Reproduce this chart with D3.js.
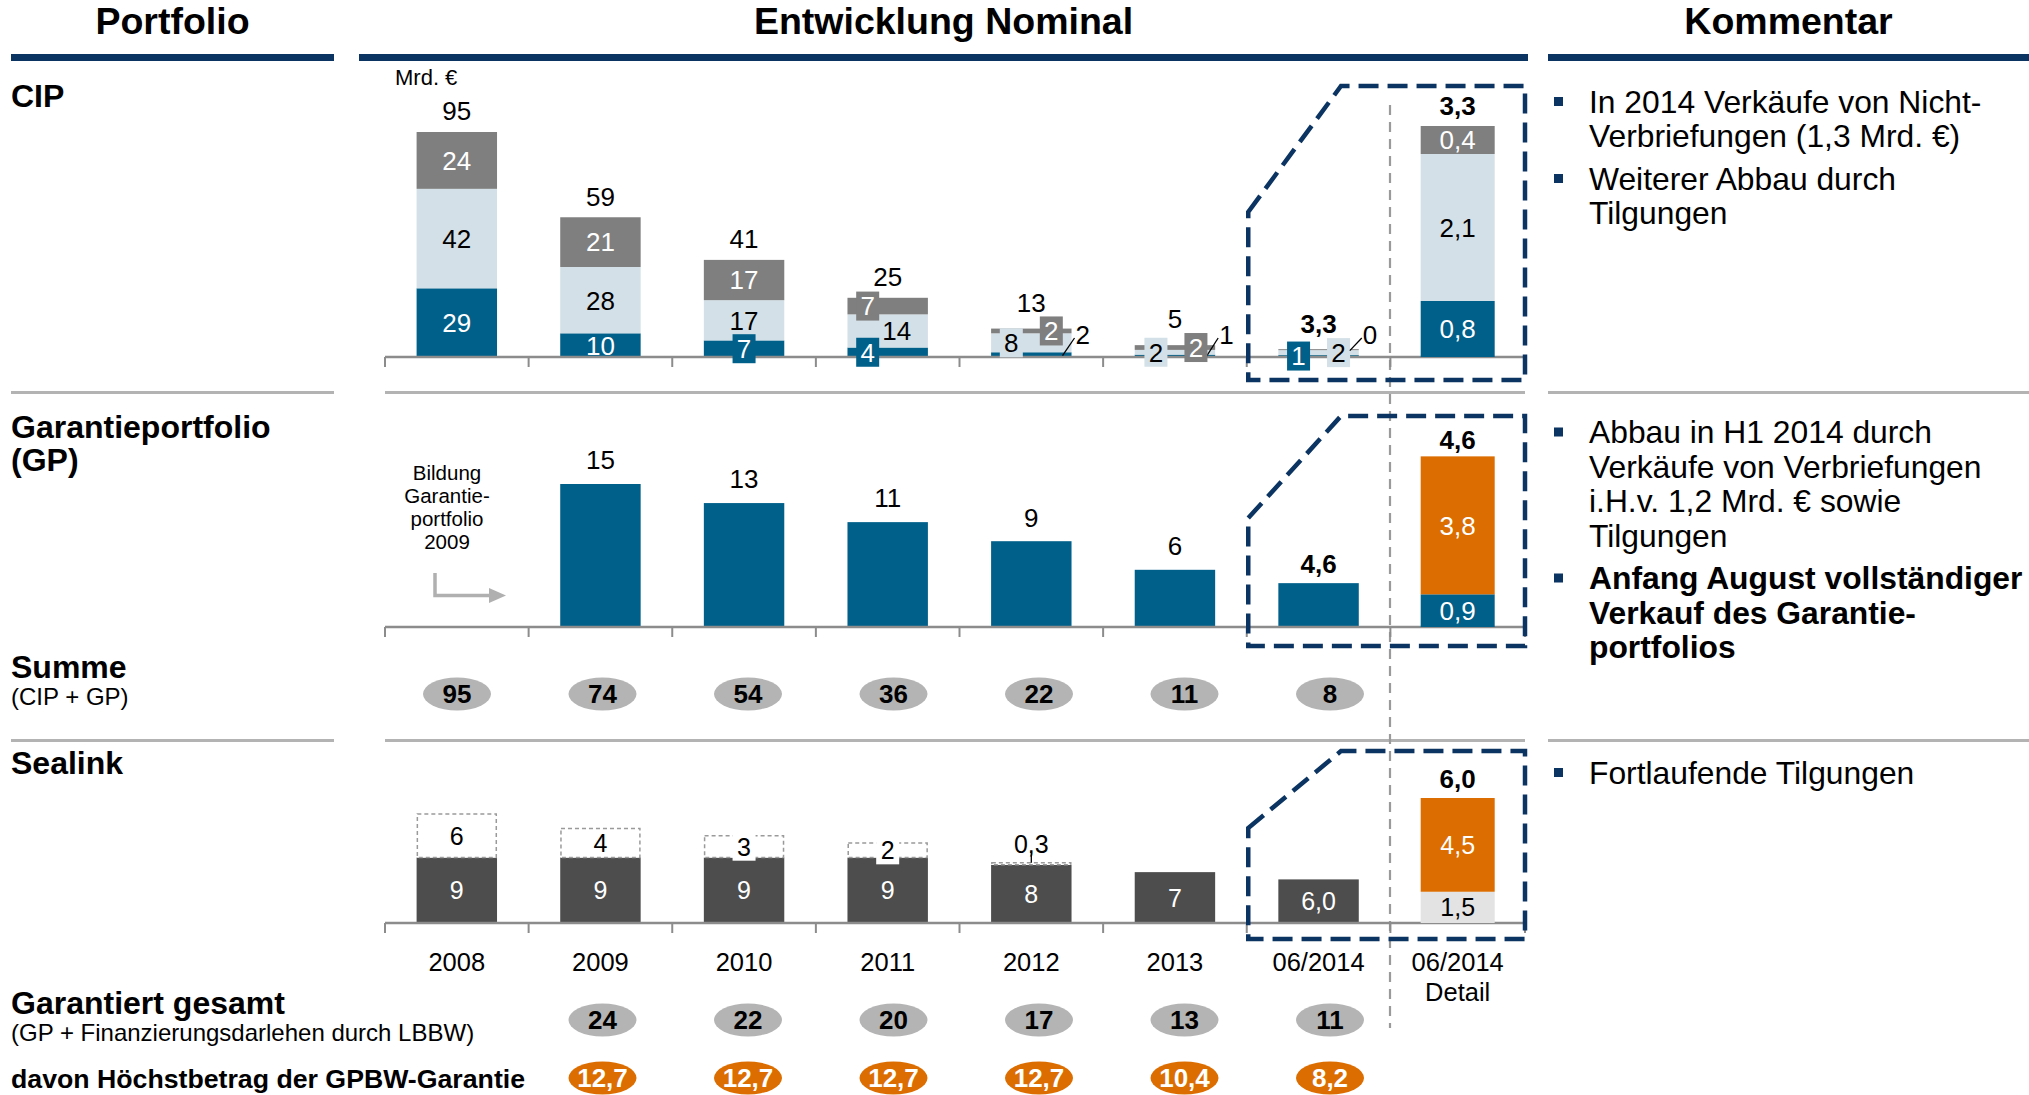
<!DOCTYPE html>
<html><head><meta charset="utf-8">
<script src="https://cdn.jsdelivr.net/npm/d3@7"></script>
<style>body{margin:0;background:#fff}svg{display:block}text{font-family:"Liberation Sans",Arial,Helvetica,sans-serif}</style>
</head><body><svg id="c" width="2029" height="1095"></svg>
<script>
// ---------- DATA ----------
const categories = ["2008","2009","2010","2011","2012","2013","06/2014","06/2014 Detail"];
const mainCats = categories.slice(0,7);
const detailCat = categories[7];
const cipBlue  = [29,10,7,4,2,1,0.8];
const cipLight = [42,28,17,14,8,2,2.1];
const cipGray  = [24,21,17,7,2,2,0.4];
const cipTotals = [95,59,41,25,13,5,3.3];
const cipDetail = [0.8,2.1,0.4];      // blue, light, gray
const cipDetailTotal = 3.3;
const gpValues = [null,15,13,11,9,6,4.6];
const gpDetail = [0.9,3.8];           // blue, orange
const gpDetailTotal = 4.6;
const summe = [95,74,54,36,22,11,8];
const sealinkBase = [9,9,9,9,8,7,6.0];
const sealinkTop  = [6,4,3,2,0.3,0,0];
const sealinkDetail = [1.5,4.5];      // light, orange
const sealinkDetailTotal = 6.0;
const garantiert = [null,24,22,20,17,13,11];
const gpbw = [null,12.7,12.7,12.7,12.7,10.4,8.2];
const sectionLabels = ["CIP","Garantieportfolio","(GP)","Summe","(CIP + GP)","Sealink","Garantiert gesamt","(GP + Finanzierungsdarlehen durch LBBW)","davon Höchstbetrag der GPBW-Garantie"];
const headers = ["Portfolio","Entwicklung Nominal","Kommentar"];
const commentsCIP = [["In 2014 Verkäufe von Nicht-","Verbriefungen (1,3 Mrd. €)"],["Weiterer Abbau durch","Tilgungen"]];
const commentsGP = [["Abbau in H1 2014 durch","Verkäufe von Verbriefungen","i.H.v. 1,2 Mrd. € sowie","Tilgungen"],["Anfang August vollständiger","Verkauf des Garantie-","portfolios"]];
const commentsSea = [["Fortlaufende Tilgungen"]];
const bildungText = ["Bildung","Garantie-","portfolio","2009"];

// ---------- STYLE ----------
const NAVY="#0b3462", BLUE="#00608a", LIGHT="#d3e0e7", GRAY="#7f7f7f", DARK="#4d4d4d",
      ORANGE="#dc6d00", PILL="#b4b4b4", SEP="#b3b3b3", AXIS="#8c8c8c", SEALIGHT="#e3e3e3";

const loc = d3.formatLocale({decimal:",",thousands:".",grouping:[3],currency:["","€"]});
const f0 = loc.format(".0f"), f1 = loc.format(".1f");
const fAuto = v => Number.isInteger(v) ? f0(v) : f1(v);

const svg = d3.select("#c");
function label(x,y,t,o={}){
  return svg.append("text").attr("x",x).attr("y",y).attr("dy","0.36em")
    .attr("text-anchor",o.anchor||"middle").attr("font-size",o.size||26)
    .attr("font-weight",o.bold?"bold":"normal").attr("fill",o.fill||"#000").text(t);
}

// ---------- SCALES ----------
const x = d3.scaleBand().domain(categories).range([385,1534]).paddingInner(0.44).paddingOuter(0.22);
const bw = x.bandwidth(), step = x.step();
const axisEnd = 1525;
const detailW = 74;
const dcx = x(detailCat) + bw/2 - 4.5;
const cxOf = c => x(c) + bw/2;
const pillX = d3.scalePoint().domain(mainCats).range([457,1330]);

const yCip = d3.scaleLinear().domain([0,95]).range([357,132]);
const yCipD = d3.scaleLinear().domain([0,3.3]).range([357,126]);
const yGp = d3.scaleLinear().domain([0,15]).range([627,484]);
const yGpD = d3.scaleLinear().domain([0,4.6]).range([627,460]);
const ySea = d3.scaleLinear().domain([0,15]).range([923,814]);
const ySeaD = d3.scaleLinear().domain([0,6]).range([923,798]);

// ---------- HEADERS / SEPARATORS ----------
const cols = [[11,334],[359,1528],[1548,2029]];
headers.forEach((h,i)=>label((cols[i][0]+cols[i][1])/2, 20.5, h, {size:37.5,bold:true}));
cols.forEach(c=>svg.append("rect").attr("x",c[0]).attr("y",54).attr("width",c[1]-c[0]).attr("height",7).attr("fill",NAVY));
const sepCols = [[11,334],[385,1525],[1548,2029]];
[391,739].forEach(y=>sepCols.forEach(c=>svg.append("rect").attr("x",c[0]).attr("y",y).attr("width",c[1]-c[0]).attr("height",3).attr("fill",SEP)));

// divider
svg.append("line").attr("x1",1390).attr("x2",1390).attr("y1",105).attr("y2",1028)
  .attr("stroke","#9a9a9a").attr("stroke-width",2.2).attr("stroke-dasharray","10 7");

// ---------- LEFT LABELS ----------
label(11,95,sectionLabels[0],{anchor:"start",size:32,bold:true});
label(11,426,sectionLabels[1],{anchor:"start",size:32,bold:true});
label(11,459,sectionLabels[2],{anchor:"start",size:32,bold:true});
label(11,666,sectionLabels[3],{anchor:"start",size:32,bold:true});
label(11,696,sectionLabels[4],{anchor:"start",size:24});
label(11,762,sectionLabels[5],{anchor:"start",size:32,bold:true});
label(11,1002,sectionLabels[6],{anchor:"start",size:32,bold:true});
label(11,1032,sectionLabels[7],{anchor:"start",size:24});
label(11,1078,sectionLabels[8],{anchor:"start",size:26.7,bold:true});

// ---------- AXES ----------
function axis(y){
  svg.append("line").attr("x1",385).attr("x2",axisEnd).attr("y1",y).attr("y2",y).attr("stroke",AXIS).attr("stroke-width",2.5);
  const ticks = categories.map(c=>x(c)-0.22*step).concat([axisEnd]);
  svg.append("g").selectAll("line").data(ticks).join("line")
    .attr("x1",d=>d).attr("x2",d=>d).attr("y1",y).attr("y2",y+10).attr("stroke",AXIS).attr("stroke-width",2);
}

// ---------- CIP ----------
label(395,77,"Mrd. €",{anchor:"start",size:22});
const cipRows = mainCats.map((c,i)=>({cat:c,blue:cipBlue[i],light:cipLight[i],gray:cipGray[i],total:cipTotals[i]}));
const keys = ["blue","light","gray"];
const segColor = {blue:BLUE,light:LIGHT,gray:GRAY};
const segText = {blue:"#fff",light:"#000",gray:"#fff"};
const cipStack = d3.stack().keys(keys)(cipRows);
cipStack.forEach(layer=>{
  svg.append("g").selectAll("rect").data(layer).join("rect")
    .attr("x",d=>x(d.data.cat)).attr("width",bw)
    .attr("y",d=>yCip(d[1])).attr("height",d=>yCip(d[0])-yCip(d[1]))
    .attr("fill",segColor[layer.key]);
});
axis(357);
const cipLayout = {
  "2008":{blue:["in",0],light:["in",0],gray:["in",0]},
  "2009":{blue:["in",0],light:["in",0],gray:["in",0]},
  "2010":{blue:["box",0],light:["in",0],gray:["in",0]},
  "2011":{blue:["box",-20],light:["in",9],gray:["box",-20]},
  "2012":{blue:["leader",0],light:["box",-20],gray:["box",20]},
  "2013":{blue:["leader",0],light:["box",-19],gray:["box",21]},
  "06/2014":{blue:["box",-20],light:["box",20],gray:["leader",0]}
};
const boxTops = {};
cipStack.forEach(layer=>{
  layer.forEach(d=>{
    const cat = d.data.cat, k = layer.key, [mode,dx] = cipLayout[cat][k];
    const cx = cxOf(cat), cy = (yCip(d[0])+yCip(d[1]))/2, v = d.data[k];
    if(mode==="in"){ label(cx+dx, cy, f0(v), {fill:segText[k]}); }
    else if(mode==="box"){
      svg.append("rect").attr("x",cx+dx-11.5).attr("y",cy-14.5).attr("width",23).attr("height",29).attr("fill",segColor[k]);
      label(cx+dx, cy, f0(v), {fill:segText[k]});
      boxTops[cat] = Math.min(boxTops[cat]??1e9, cy-14.5);
    } else {
      const r = x(cat)+bw;
      svg.append("line").attr("x1",r-9).attr("y1",cy+1).attr("x2",r+3).attr("y2",357-19).attr("stroke","#000").attr("stroke-width",1.3);
      label(r+4, 357-22, f0(v), {anchor:"start"});
    }
  });
});
cipRows.forEach(d=>{
  const top = yCip(d.blue+d.light+d.gray);
  const y = Math.min(top-21, (boxTops[d.cat]??1e9)-14);
  label(cxOf(d.cat), y, fAuto(d.total), {bold:d.cat==="06/2014"});
});
// CIP detail
const cipDRow = [{blue:cipDetail[0],light:cipDetail[1],gray:cipDetail[2]}];
d3.stack().keys(keys)(cipDRow).forEach(layer=>{
  const d = layer[0];
  svg.append("rect").attr("x",dcx-detailW/2).attr("width",detailW).attr("y",yCipD(d[1])).attr("height",yCipD(d[0])-yCipD(d[1])).attr("fill",segColor[layer.key]);
  label(dcx,(yCipD(d[0])+yCipD(d[1]))/2,f1(d.data[layer.key]),{fill:segText[layer.key]});
});
label(dcx, yCipD(cipDetailTotal)-20, f1(cipDetailTotal), {bold:true});

// ---------- GP ----------
const gpRows = mainCats.map((c,i)=>({cat:c,v:gpValues[i]})).filter(d=>d.v!==null);
svg.append("g").selectAll("rect").data(gpRows).join("rect")
  .attr("x",d=>x(d.cat)).attr("width",bw).attr("y",d=>yGp(d.v)).attr("height",d=>yGp(0)-yGp(d.v)).attr("fill",BLUE);
axis(627);
gpRows.forEach(d=>{const b=d.cat==="06/2014"; label(cxOf(d.cat), yGp(d.v)-(b?20:24), fAuto(d.v), {bold:b});});
const gpD = d3.stack().keys(["blue","orange"])([{blue:gpDetail[0],orange:gpDetail[1]}]);
gpD.forEach(layer=>{
  const d = layer[0];
  svg.append("rect").attr("x",dcx-detailW/2).attr("width",detailW).attr("y",yGpD(d[1])).attr("height",yGpD(d[0])-yGpD(d[1])).attr("fill",layer.key==="blue"?BLUE:ORANGE);
  label(dcx,(yGpD(d[0])+yGpD(d[1]))/2,f1(d.data[layer.key]),{fill:"#fff"});
});
label(dcx, yGpD(gpDetailTotal)-20, f1(gpDetailTotal), {bold:true});
bildungText.forEach((t,i)=>label(447, 473+i*23, t, {size:20.5}));
svg.append("path").attr("d","M435,573 V595.5 H492").attr("fill","none").attr("stroke","#b0b0b0").attr("stroke-width",3.5);
svg.append("path").attr("d","M489,588 L506,595.5 L489,603 Z").attr("fill","#b0b0b0");

// ---------- SUMME ----------
function pills(vals, y, fill, color){
  const rows = mainCats.map((c,i)=>({cat:c,v:vals[i]})).filter(d=>d.v!==null);
  svg.append("g").selectAll("ellipse").data(rows).join("ellipse")
    .attr("cx",d=>pillX(d.cat)).attr("cy",y).attr("rx",34).attr("ry",16.5).attr("fill",fill);
  rows.forEach(d=>label(pillX(d.cat), y, fAuto(d.v), {bold:true,fill:color}));
}
pills(summe, 694, PILL, "#000");

// ---------- SEALINK ----------
const seaRows = mainCats.map((c,i)=>({cat:c,base:sealinkBase[i],top:sealinkTop[i]}));
svg.append("g").selectAll("rect").data(seaRows).join("rect")
  .attr("x",d=>x(d.cat)).attr("width",bw).attr("y",d=>ySea(d.base)).attr("height",d=>ySea(0)-ySea(d.base)).attr("fill",DARK);
svg.append("g").selectAll("rect").data(seaRows.filter(d=>d.top>0)).join("rect")
  .attr("x",d=>x(d.cat)+0.75).attr("width",bw-1.5).attr("y",d=>ySea(d.base+d.top)).attr("height",d=>ySea(d.base)-ySea(d.base+d.top))
  .attr("fill","#fff").attr("stroke","#9a9a9a").attr("stroke-width",1.5).attr("stroke-dasharray","4 3");
axis(923);
seaRows.forEach(d=>{
  const cx = cxOf(d.cat);
  label(cx,(ySea(0)+ySea(d.base))/2, d.cat==="06/2014"?f1(d.base):fAuto(d.base), {fill:"#fff",size:25});
  if(d.top>0){
    const t = ySea(d.base+d.top), b = ySea(d.base), h = b-t, my=(t+b)/2;
    if(h>=25) label(cx,my,fAuto(d.top),{size:25});
    else if(h>=8){
      svg.append("rect").attr("x",cx-11.5).attr("y",my-14).attr("width",23).attr("height",28).attr("fill","#fff");
      label(cx,my,fAuto(d.top),{size:25});
    } else {
      svg.append("line").attr("x1",cx).attr("x2",cx).attr("y1",t).attr("y2",t-11).attr("stroke","#000").attr("stroke-width",1.3);
      label(cx,t-19,fAuto(d.top),{size:25});
    }
  }
});
const seaD = d3.stack().keys(["light","orange"])([{light:sealinkDetail[0],orange:sealinkDetail[1]}]);
seaD.forEach(layer=>{
  const d = layer[0];
  svg.append("rect").attr("x",dcx-detailW/2).attr("width",detailW).attr("y",ySeaD(d[1])).attr("height",ySeaD(d[0])-ySeaD(d[1])).attr("fill",layer.key==="light"?SEALIGHT:ORANGE);
  label(dcx,(ySeaD(d[0])+ySeaD(d[1]))/2,f1(d.data[layer.key]),{fill:layer.key==="light"?"#000":"#fff",size:25});
});
label(dcx, ySeaD(sealinkDetailTotal)-19, f1(sealinkDetailTotal), {bold:true});

// ---------- CATEGORY LABELS ----------
categories.forEach(c=>{
  const cx = c===detailCat ? dcx : cxOf(c);
  c.split(" ").forEach((t,i)=>label(cx, 962+i*30, t, {size:25.5}));
});

// ---------- BOTTOM PILLS ----------
pills(garantiert, 1020, PILL, "#000");
pills(gpbw, 1078, ORANGE, "#fff");

// ---------- DASHED FOCUS BOXES ----------
const boxL = x("06/2014")-0.22*step+1.5;
[[86,212,380],[416,518,646],[751,828,939]].forEach(([top,low,bot])=>{
  svg.append("path").attr("d",`M${boxL},${low} L1341,${top} H${axisEnd} V${bot} H${boxL} Z`)
    .attr("fill","none").attr("stroke",NAVY).attr("stroke-width",4.5).attr("stroke-dasharray","20 9");
});

// ---------- COMMENTS ----------
function comments(groups, y0, boldGroups){
  let y = y0;
  groups.forEach((g,gi)=>{
    svg.append("rect").attr("x",1554).attr("y",y-4.5).attr("width",9).attr("height",9).attr("fill",NAVY);
    g.forEach((t,li)=>{ label(1589,y,t,{anchor:"start",size:31.8,bold:boldGroups.includes(gi)}); y+=34.5; });
    y += 8;
  });
}
comments(commentsCIP, 101.5, []);
comments(commentsGP, 432, [1]);
comments(commentsSea, 772.5, []);
</script></body></html>
